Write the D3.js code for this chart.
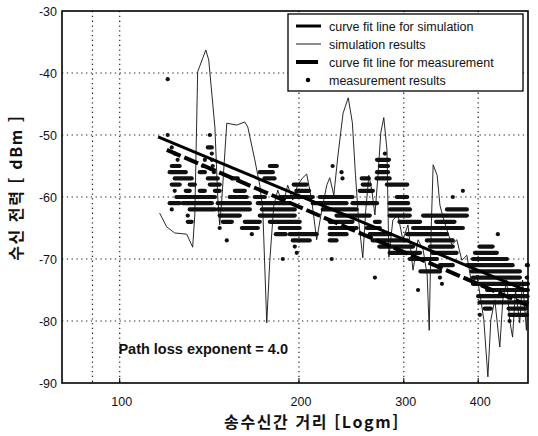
<!DOCTYPE html>
<html lang="ko">
<head>
<meta charset="utf-8">
<title>수신 전력 - 송수신간 거리</title>
<script src="https://d3js.org/d3.v7.min.js"></script>
<style>
  body { margin: 0; background: #fff; }
  svg text { font-family: "Liberation Sans", Arial, sans-serif; fill: #111; }
</style>
</head>
<body>
<svg id="chart" width="538" height="436"></svg>
<script>
// axis settings
var xDomain = [80, 485];
var yDomain = [-90, -30];
var xTicks = [100, 200, 300, 400];
var xGrid = [90, 100, 200, 300, 400];
var yTicks = [-90, -80, -70, -60, -50, -40, -30];
var yGrid = [-80, -70, -60, -50, -40];

// curve fit lines [distance, dBm]
var simFit = [[116, -50.3], [485, -75.2]];
var measFit = [[120, -52.4], [485, -77.5]];

// simulation results [distance, dBm]
var simResults = [
  [116.7, -62.6], [119.9, -64.8], [123.7, -65.8], [129.6, -66.0], [132.6, -68.1],
  [133.7, -62.9], [135.2, -39.8], [139.5, -36.3], [141.1, -37.9], [144.5, -48.7],
  [146.1, -60.0], [147.2, -64.5], [148.4, -60.5], [151.3, -48.1], [157.3, -48.4],
  [162.2, -47.9], [164.1, -48.7], [168.6, -54.0], [171.9, -58.1], [173.9, -62.1],
  [176.6, -80.3], [178.7, -70.2], [181.5, -61.3], [184.3, -58.9], [187.9, -61.3],
  [191.5, -58.1], [195.3, -60.5], [199.0, -58.1], [202.9, -56.9], [206.1, -56.3],
  [210.1, -60.5], [214.2, -66.9], [218.5, -62.1], [222.7, -58.1], [225.3, -56.9],
  [228.9, -59.7], [232.5, -53.4], [237.2, -46.5], [242.0, -44.0], [245.9, -48.0],
  [248.9, -56.5], [251.9, -63.7], [256.0, -69.8], [259.0, -62.1], [262.1, -56.5],
  [265.1, -58.9], [268.3, -62.9], [271.5, -56.5], [274.5, -49.6], [277.7, -47.2],
  [281.1, -52.4], [283.2, -69.7], [287.6, -63.7], [293.3, -62.9], [298.9, -66.9],
  [304.9, -64.5], [310.9, -71.8], [317.0, -66.9], [323.3, -68.5], [328.4, -72.6],
  [331.0, -81.5], [333.5, -65.3], [336.1, -54.8], [341.3, -56.5], [345.0, -61.3],
  [349.0, -63.2], [354.5, -65.3], [361.2, -67.7], [368.3, -66.9], [375.5, -70.2],
  [382.9, -69.4], [390.3, -74.2], [398.0, -72.6], [404.1, -76.6], [408.8, -79.8],
  [415.3, -89.0], [420.1, -79.8], [426.6, -76.6], [434.9, -84.2], [440.0, -76.6],
  [446.7, -73.4], [451.6, -79.8], [456.9, -82.6], [462.1, -75.0], [469.7, -80.3],
  [474.9, -73.4], [482.0, -81.5], [484.0, -76.6]
];

// measurement results: runs of equal level [from distance, to distance, dBm]
var measRuns = [
  [120.4, 120.4, -41],
  [120.4, 120.4, -50], [141.7, 141.7, -50],
  [122.3, 122.3, -52], [140.6, 142.8, -52],
  [123.7, 123.7, -53], [142.8, 142.8, -53], [278.9, 278.9, -53],
  [125.1, 125.1, -54], [139, 139, -54], [142.8, 142.8, -54], [270.5, 283.3, -54],
  [122.3, 126.1, -55], [137.9, 137.9, -55], [143.3, 143.3, -55], [178.7, 183.6, -55], [227.8, 227.8, -55], [273.4, 282.2, -55],
  [121.3, 129.1, -56], [136.3, 139, -56], [144, 144, -56], [171.9, 180.8, -56], [235.8, 235.8, -56], [270.5, 282.2, -56],
  [123.7, 132.1, -57], [140.6, 146.1, -57], [154.3, 157.9, -57], [175, 182, -57], [236.7, 236.7, -57], [255, 262, -57], [270, 284, -57],
  [122.3, 126.1, -58], [131.1, 133.7, -58], [141.7, 147.2, -58], [196, 206, -58], [256, 263, -58], [281, 304, -58],
  [123.7, 123.7, -59], [129.1, 131.1, -59], [136.3, 139, -59], [144.5, 147.2, -59], [156.1, 162.2, -59], [198, 208, -59], [253, 266.2, -59], [377, 377, -59],
  [124.5, 144.5, -60], [153, 163.5, -60], [168.6, 175.3, -60], [185.7, 211, -60], [216.7, 246, -60], [292, 304, -60], [362.6, 362.6, -60],
  [121.3, 126.1, -61], [127.6, 142.8, -61], [146.1, 165.4, -61], [170.6, 193, -61], [211, 240.4, -61], [246, 270.5, -61], [284, 305, -61],
  [122.3, 122.3, -62], [131.1, 144.5, -62], [146.1, 165.4, -62], [173.3, 196.8, -62], [219.3, 250, -62], [284.3, 307.2, -62], [354.5, 382.9, -62],
  [130.1, 130.1, -63], [147.2, 159.1, -63], [171.9, 196.8, -63], [231.3, 263, -63], [284, 307, -63], [323.3, 382.9, -63],
  [130.1, 132.1, -64], [149, 154.3, -64], [162.2, 171.9, -64], [178.7, 200.6, -64], [225.3, 246, -64], [268.3, 273.4, -64], [295, 319.5, -64], [340, 365, -64],
  [147.2, 147.2, -65], [160.4, 170.6, -65], [185.7, 200.6, -65], [225.3, 250, -65], [260, 273.4, -65], [311, 377, -65],
  [166.7, 166.7, -66], [182.9, 190, -66], [193, 214.2, -66], [225.3, 240.4, -66], [263, 284.3, -66], [304, 354.5, -66], [431.6, 431.6, -66],
  [151.3, 151.3, -67], [195.3, 208.5, -67], [225.3, 231.3, -67], [266, 304, -67], [328, 362.6, -67],
  [196.8, 196.8, -68], [273, 311, -68], [332, 362.6, -68], [402, 423, -68],
  [198.3, 198.3, -69], [284, 319.5, -69], [335, 368, -69], [395, 430, -69],
  [187.9, 187.9, -70], [227, 227, -70], [307, 341, -70], [392, 447, -70],
  [345, 362.6, -71], [383, 457, -71], [482.8, 484.8, -71],
  [320, 345, -72], [390, 470, -72],
  [268.3, 268.3, -73], [345, 345, -73], [392, 470, -73], [482.8, 482.8, -73],
  [347.7, 347.7, -74], [392, 484.8, -74],
  [317, 317, -75], [414, 484.8, -75],
  [400, 440, -76], [450, 484, -76],
  [402, 483, -77],
  [410, 420, -78], [450, 480, -78],
  [402.6, 402.6, -79], [451.6, 482.8, -79],
  [451.6, 451.6, -80]
];

var legendLabels = [
  "curve fit line for simulation",
  "simulation results",
  "curve fit line for measurement",
  "measurement results"
];

//****************** canvas ******************//
var margin = { top: 11, right: 10, bottom: 53, left: 62 },
  width = 538 - margin.left - margin.right,
  height = 436 - margin.top - margin.bottom;

var svg = d3.select("#chart")
  .append("g")
  .attr("transform", "translate(" + margin.left + "," + margin.top + ")");

var x = d3.scaleLog().domain(xDomain).range([0, width]);
var y = d3.scaleLinear().domain(yDomain).range([height, 0]);

// dotted grid
svg.selectAll(".gx")
  .data(xGrid)
  .enter()
  .append("line")
  .attr("x1", function (d) { return x(d) })
  .attr("x2", function (d) { return x(d) })
  .attr("y1", 0)
  .attr("y2", height)
  .attr("stroke", "#222")
  .attr("stroke-width", 1.2)
  .attr("stroke-dasharray", "1.3,3.5");

svg.selectAll(".gy")
  .data(yGrid)
  .enter()
  .append("line")
  .attr("x1", 0)
  .attr("x2", width)
  .attr("y1", function (d) { return y(d) })
  .attr("y2", function (d) { return y(d) })
  .attr("stroke", "#222")
  .attr("stroke-width", 1.2)
  .attr("stroke-dasharray", "1.3,3.5");

// measurement results (dots; runs of equal level merge into dashes)
svg.selectAll(".run")
  .data(measRuns)
  .enter()
  .append("line")
  .attr("x1", function (d) { return x(d[0]) })
  .attr("x2", function (d) { return x(d[1]) + 0.01 })
  .attr("y1", function (d) { return y(d[2]) })
  .attr("y2", function (d) { return y(d[2]) })
  .attr("stroke", "#111")
  .attr("stroke-width", 4.2)
  .attr("stroke-linecap", "round");

// simulation results
var line = d3.line()
  .x(function (d) { return x(d[0]) })
  .y(function (d) { return y(d[1]) });

svg.append("path")
  .datum(simResults)
  .attr("d", line)
  .attr("fill", "none")
  .attr("stroke", "#111")
  .attr("stroke-width", 0.9);

// curve fit lines
svg.append("path")
  .datum(simFit)
  .attr("d", line)
  .attr("fill", "none")
  .attr("stroke", "#000")
  .attr("stroke-width", 3);

svg.append("path")
  .datum(measFit)
  .attr("d", line)
  .attr("fill", "none")
  .attr("stroke", "#000")
  .attr("stroke-width", 4)
  .attr("stroke-dasharray", "15,4");

// axes box
svg.append("rect")
  .attr("x", 0)
  .attr("y", 0)
  .attr("width", width)
  .attr("height", height)
  .attr("fill", "none")
  .attr("stroke", "#000")
  .attr("stroke-width", 1.6);

// ticks + labels
svg.selectAll(".xt")
  .data(xTicks)
  .enter()
  .append("line")
  .attr("x1", function (d) { return x(d) })
  .attr("x2", function (d) { return x(d) })
  .attr("y1", height)
  .attr("y2", height - 5)
  .attr("stroke", "#000");

svg.selectAll(".xl")
  .data(xTicks)
  .enter()
  .append("text")
  .attr("x", function (d) { return x(d) + 2 })
  .attr("y", height + 23)
  .attr("text-anchor", "middle")
  .style("font-size", "12.5px")
  .text(function (d) { return d });

svg.selectAll(".yl")
  .data(yTicks)
  .enter()
  .append("text")
  .attr("x", -5)
  .attr("y", function (d) { return y(d) + 4.5 })
  .attr("text-anchor", "end")
  .style("font-size", "12.5px")
  .text(function (d) { return d });

// axis titles
svg.append("text")
  .attr("x", 312 - margin.left)
  .attr("y", height + 45)
  .attr("text-anchor", "middle")
  .style("font-size", "16px")
  .style("font-weight", "bold")
  .style("letter-spacing", "1.6px")
  .style("font-family", "'Noto Sans CJK KR', sans-serif")
  .text("송수신간 거리 [Logm]");

svg.append("text")
  .attr("transform", "translate(" + (-40) + "," + y(-58.5) + ") rotate(-90)")
  .attr("text-anchor", "middle")
  .style("font-size", "16px")
  .style("font-weight", "bold")
  .style("letter-spacing", "1.6px")
  .style("font-family", "'Noto Sans CJK KR', sans-serif")
  .text("수신 전력 [ dBm ]");

// annotation
svg.append("text")
  .attr("x", x(99.5))
  .attr("y", y(-85.4))
  .style("font-size", "14.5px")
  .style("font-weight", "bold")
  .text("Path loss exponent = 4.0");

//****************** legend ******************//
var legend = svg.append("g")
  .attr("transform", "translate(" + (288 - margin.left) + "," + (14 - margin.top) + ")");

legend.append("rect")
  .attr("width", 235)
  .attr("height", 77)
  .attr("fill", "#fff")
  .attr("stroke", "#000")
  .attr("stroke-width", 1.3);

var rows = legend.selectAll(".lg")
  .data(legendLabels)
  .enter()
  .append("g")
  .attr("transform", function (d, i) { return "translate(0," + (12 + i * 18) + ")" });

rows.append("text")
  .attr("x", 41)
  .attr("y", 4.5)
  .style("font-size", "12.5px")
  .text(function (d) { return d });

rows.filter(function (d, i) { return i === 0 })
  .append("line")
  .attr("x1", 8).attr("x2", 33)
  .attr("stroke", "#000").attr("stroke-width", 3);

rows.filter(function (d, i) { return i === 1 })
  .append("line")
  .attr("x1", 8).attr("x2", 33)
  .attr("stroke", "#000").attr("stroke-width", 0.9);

rows.filter(function (d, i) { return i === 2 })
  .append("line")
  .attr("x1", 8).attr("x2", 30)
  .attr("stroke", "#000").attr("stroke-width", 4);

rows.filter(function (d, i) { return i === 3 })
  .append("circle")
  .attr("cx", 20).attr("r", 2.2)
  .attr("fill", "#000");
</script>
</body>
</html>
